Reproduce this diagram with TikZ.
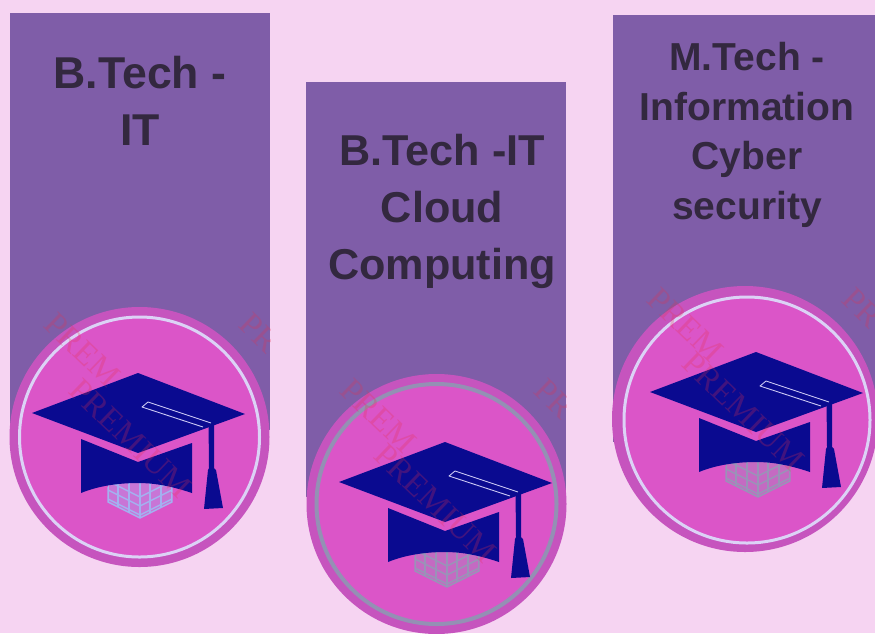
\documentclass[tikz,border=0pt]{standalone}
\usepackage{fontspec}
\setmainfont{Liberation Sans}
\newfontfamily\wmfont{Liberation Serif}
\definecolor{bgpink}{HTML}{F6D4F2}
\definecolor{panelpurple}{HTML}{7F5DA8}
\definecolor{rimpink}{HTML}{C654BE}
\definecolor{discpink}{HTML}{DB55C8}
\definecolor{navycap}{HTML}{0A0A90}
\definecolor{labeldark}{HTML}{33283F}
\definecolor{ringlight}{HTML}{DCD2F6}
\definecolor{ringgrey}{HTML}{9490B4}
\definecolor{gridblue}{HTML}{A4B0F0}
\definecolor{gridgrey}{HTML}{9A92B8}
\definecolor{wmred}{HTML}{E8304A}
\tikzset{
  panelbox/.style={fill=panelpurple,draw=none},
  rimdisc/.style={fill=rimpink,draw=none},
  capfill/.style={fill=navycap,draw=none},
  labeltext/.style={text=labeldark,font=\bfseries\fontsize{#1}{#1}\selectfont,align=center,anchor=north},
  wmark/.style={text=wmred,opacity=.25,font=\wmfont\fontsize{33}{33}\selectfont,rotate=-44,anchor=west,inner sep=0pt}
}
\newcommand{\gradcap}[3]{%
\begin{scope}[shift={(#1,#2)}]
  \begin{scope}
    \clip (-30,110) -- (-30,129) -- (2,145) -- (34,129) -- (34,110) -- cycle;
    \fill[discpink!65!#3] (-30,110) rectangle (34,146);
    \foreach \gx in {-30,-20,-9,2,12,23,34} \draw[#3,line width=1.4] (\gx,108) -- (\gx,148);
    \foreach \gy in {114,123,132,141} {
      \draw[#3,line width=1.4] (-30,\gy-6) -- (2,\gy+10) -- (34,\gy-6);
    }
  \end{scope}
  \draw[#3,line width=1.4] (-30,114) -- (-30,129) -- (2,145) -- (34,129) -- (34,114);
  \path[capfill] (-57,66) -- (0,89) -- (54,70) -- (54,120) .. controls (30,112) and (14,110) .. (0,110) .. controls (-20,110) and (-40,113) .. (-57,120) -- cycle;
  \path[capfill] (0,0) -- (107,41) -- (0,80) -- (-106,40) -- cycle;
  \path[capfill] (70.5,47) -- (76,47) -- (76,95) -- (78,97) -- (85,135) -- (66,136) -- (70,97) -- (71,95) -- cycle;
  \draw[ringlight!70!gridblue,line width=.9,line join=round] (65,54) -- (4,34) -- (10,29) -- (73,50);
\end{scope}}
\begin{document}
\begin{tikzpicture}[x=1pt,y=-1pt]
\useasboundingbox (0,0) rectangle (875,633);
\fill[bgpink] (0,0) rectangle (875,633);
% panels
\path[panelbox] (10,13) rectangle (270,430);
\path[panelbox] (306,82) rectangle (566,497);
\path[panelbox] (613,15) rectangle (875,442);
% discs
\path[rimdisc] (139.5,437) circle (130);
\fill[discpink] (139.5,437) circle (119);
\draw[ringlight,line width=3] (139.5,437) circle (120);
\path[rimdisc] (436.5,504) circle (130);
\fill[discpink] (436.5,504) circle (119);
\draw[ringgrey,line width=4] (436.5,504) circle (120);
\path[rimdisc] (745,419) circle (133);
\fill[discpink] (747,420) circle (122);
\draw[ringlight,line width=3] (747,420) circle (123);
% caps
\gradcap{138}{373}{gridblue}
\gradcap{445}{442}{gridgrey}
\gradcap{756}{352}{gridgrey}
% labels
\node[labeltext=44.6] (labelA) at (140,53) {B.Tech -\\[12.4pt]IT};
\node[labeltext=43.2] (labelB) at (442,131) {B.Tech -IT\\[13.8pt]Cloud\\[13.8pt]Computing};
\node[labeltext=39] (labelC) at (747,39) {M.Tech -\\[10.5pt]Information\\[10.5pt]Cyber\\[10.5pt]security};
% watermark
\node[wmark] (wmA) at (50,319) {PREM};
\node[wmark] (wmB) at (75,385) {PREMIUM};
\node[wmark] (wmC) at (346,385) {PREM};
\node[wmark] (wmD) at (380,450) {PREMIUM};
\node[wmark] (wmE) at (653,294) {PREM};
\node[wmark] (wmF) at (688,358) {PREMIUM};
\begin{scope}
  \clip (10,13) rectangle (270,430);
  \node[wmark] (wmG) at (245,319) {PR};
\end{scope}
\begin{scope}
  \clip (306,82) rectangle (566,497);
  \node[wmark] (wmH) at (540,385) {PR};
\end{scope}
\begin{scope}
  \clip (613,15) rectangle (875,442);
  \node[wmark] (wmI) at (848,294) {PR};
\end{scope}
\end{tikzpicture}
\end{document}
